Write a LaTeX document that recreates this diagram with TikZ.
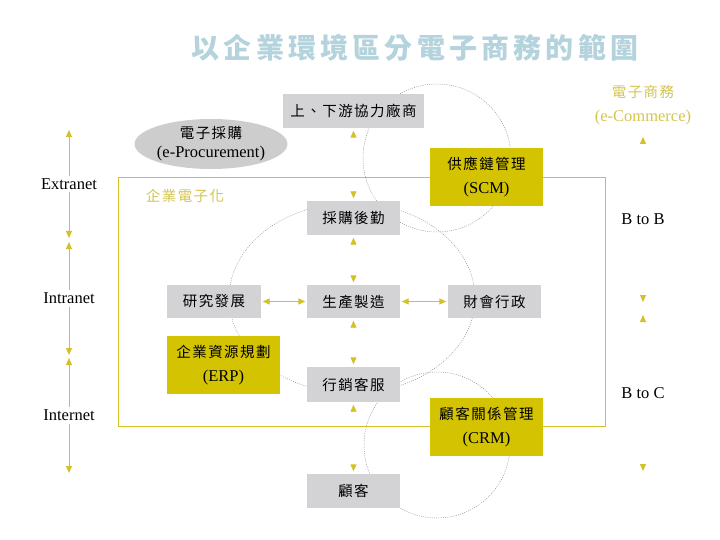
\documentclass[tikz,border=0pt]{standalone}
\usepackage{fontspec}
\setmainfont{Liberation Serif}
\newfontfamily\cjk[LetterSpace=10]{Noto Sans CJK TC}
\newfontfamily\cjkt[LetterSpace=15]{Noto Sans CJK TC}
\usetikzlibrary{arrows.meta,shapes.geometric}
\definecolor{boxgray}{RGB}{211,211,213}
\definecolor{ellgray}{RGB}{205,205,205}
\definecolor{yboxc}{RGB}{212,195,0}
\definecolor{ylinec}{RGB}{210,194,40}
\definecolor{ytextc}{RGB}{212,196,80}
\definecolor{ringc}{RGB}{150,150,150}
\definecolor{titlec}{RGB}{180,211,221}
\pgfdeclarelayer{shaft}
\pgfdeclarelayer{bg}
\pgfsetlayers{shaft,bg,main}
\begin{document}
\begin{tikzpicture}[x=1pt,y=-1pt,
  every node/.style={font=\fontsize{16.5}{24}\selectfont, inner sep=0pt},
  zh/.style={font=\cjk\fontsize{14.5}{24}\selectfont},
  gbox/.style={fill=boxgray, minimum width=93pt, minimum height=34pt, zh},
  ybox/.style={fill=yboxc, minimum width=113pt, minimum height=58pt, align=center},
  ring/.style={draw=ringc, line width=0.5pt, dash pattern=on 1pt off 1.2pt},
  yarr/.style={draw=ylinec, line width=0.9pt, {Triangle[length=7pt,width=6pt]}-{Triangle[length=7pt,width=6pt]}},
  tiponly/.style={draw=white, line width=0.9pt, {Triangle[length=7pt,width=6pt,color=ylinec]}-{Triangle[length=7pt,width=6pt,color=ylinec]}},
  gap/.style={shorten >=2.5pt, shorten <=2.5pt}
]
\useasboundingbox (0,0) rectangle (720,540);

% title
\node[font=\cjkt\bfseries\fontsize{28}{28}\selectfont, text=titlec] (title) at (415,48) {以企業環境區分電子商務的範圍};

% boxes
\node[gbox, minimum width=141pt] (up) at (353.5,111) {上、下游協力廠商};
\node[fill=ellgray, ellipse, minimum width=140pt, minimum height=50pt, align=center, font=\fontsize{16.5}{19}\selectfont] (proc) at (211,144) {{\cjk\fontsize{14.5}{19}\selectfont 電子採購}\\(e-Procurement)};
\node[ybox] (scm) at (486.5,177) {{\cjk\fontsize{14.5}{24}\selectfont 供應鏈管理}\\(SCM)};
\node[gbox] (buy) at (353.5,218) {採購後勤};
\node[gbox, minimum width=94pt, minimum height=33pt] (rd) at (214,301.5) {研究發展};
\node[gbox, minimum height=33pt] (prod) at (353.5,301.5) {生產製造};
\node[gbox, minimum height=33pt] (fin) at (494.5,301.5) {財會行政};
\node[ybox] (erp) at (223.5,365) {{\cjk\fontsize{14.5}{24}\selectfont 企業資源規劃}\\(ERP)};
\node[gbox, minimum height=35pt] (mkt) at (353.5,384.5) {行銷客服};
\node[ybox] (crm) at (486.5,427) {{\cjk\fontsize{14.5}{24}\selectfont 顧客關係管理}\\(CRM)};
\node[gbox] (cust) at (353.5,491) {顧客};

% labels
\node[zh, text=ytextc] (ent) at (185,196) {企業電子化};
\node[align=center, text=ytextc] (ecom) at (643,105) {{\cjk\fontsize{14.5}{24}\selectfont 電子商務}\\(e-Commerce)};

% background: rings and frame
\begin{pgfonlayer}{bg}
  \draw[ring] (437,158) circle [radius=74pt];
  \draw[ring] (437,445) circle [radius=73pt];
  \draw[ring] (352,298) ellipse [x radius=123pt, y radius=95pt];
  \draw[draw=ylinec, line width=0.9pt] (118,177) rectangle (605,426);
\end{pgfonlayer}

% center vertical arrows (heads only)
\begin{pgfonlayer}{shaft}
  \draw[tiponly, gap] (up) -- (buy);
  \draw[tiponly, gap] (buy) -- (prod);
  \draw[tiponly, gap] (prod) -- (mkt);
  \draw[tiponly, gap] (mkt) -- (cust);
  % right column
  \coordinate (r1) at (643,137);
  \coordinate (r2) at (643,302);
  \coordinate (r3) at (643,315);
  \coordinate (r4) at (643,471);
  \draw[tiponly] (r1) -- node (btob) {B to B} (r2);
  \draw[tiponly] (r3) -- node (btoc) {B to C} (r4);
\end{pgfonlayer}

% horizontal arrows
\draw[yarr, shorten >=1.5pt, shorten <=1.5pt] (rd) -- (prod);
\draw[yarr, shorten >=1.5pt, shorten <=1.5pt] (prod) -- (fin);

% left column
\coordinate (l1) at (69,130);
\coordinate (l2) at (69,238);
\coordinate (l3) at (69,242);
\coordinate (l4) at (69,355);
\coordinate (l5) at (69,358);
\coordinate (l6) at (69,473);
\draw[yarr] (l1) -- node[fill=white, inner sep=3pt] (extra) {Extranet} (l2);
\draw[yarr] (l3) -- node[fill=white, inner sep=3pt] (intra) {Intranet} (l4);
\draw[yarr] (l5) -- node[fill=white, inner sep=3pt] (inter) {Internet} (l6);
\end{tikzpicture}
\end{document}
